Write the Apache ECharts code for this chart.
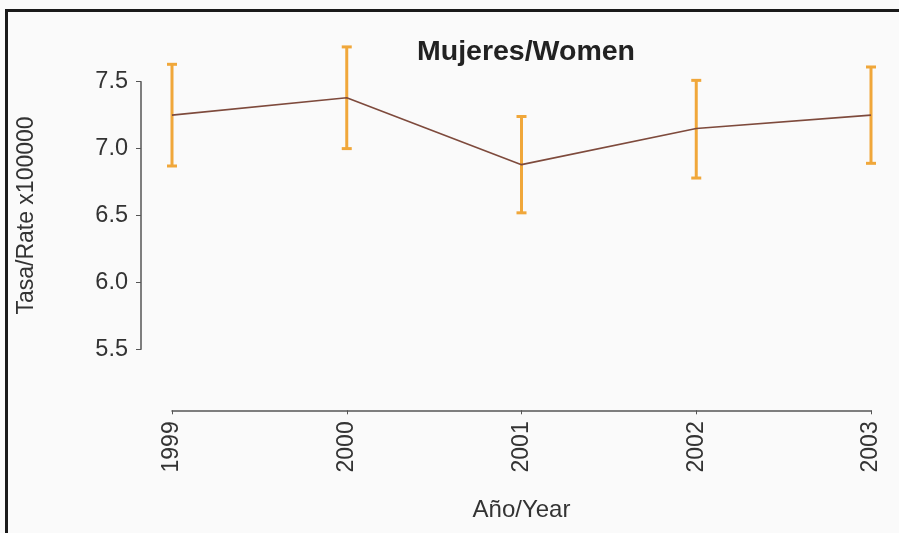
<!DOCTYPE html>
<html>
<head>
<meta charset="utf-8">
<script src="https://cdn.jsdelivr.net/npm/echarts@6/dist/echarts.min.js"></script>
<style>
html,body{margin:0;padding:0;background:#fafafa;}
#chart{width:899px;height:533px;}
</style>
</head>
<body>
<div id="chart"></div>
<script>
var years = ['1999', '2000', '2001', '2002', '2003'];
var rates = [7.25, 7.38, 6.88, 7.15, 7.25];
var lower = [6.87, 7.00, 6.52, 6.78, 6.89];
var upper = [7.63, 7.76, 7.24, 7.51, 7.61];
var yTicks = [5.5, 6.0, 6.5, 7.0, 7.5];

var FONT = '"Liberation Sans", Arial, Helvetica, sans-serif';
var chart = echarts.init(document.getElementById('chart'));

var errData = years.map(function (y, i) { return [i, lower[i], upper[i]]; });

chart.setOption({
  backgroundColor: '#fafafa',
  animation: false,
  title: {
    text: 'Mujeres/Women',
    left: 521,
    top: 33,
    textAlign: 'center',
    textStyle: { fontFamily: FONT, fontSize: 28.5, fontWeight: 'bold', color: '#222' }
  },
  grid: { left: 172, right: 28, top: 81.7, bottom: 183.7, containLabel: false, outerBoundsMode: 'none' },
  xAxis: {
    type: 'category',
    data: years,
    boundaryGap: false,
    offset: 61,
    name: 'Año/Year',
    nameLocation: 'middle',
    nameGap: 88,
    nameTextStyle: { fontFamily: FONT, fontSize: 24, color: '#333' },
    axisLine: { lineStyle: { color: '#555', width: 1.5 } },
    axisTick: { length: 4, lineStyle: { color: '#555' } },
    axisLabel: { rotate: 90, margin: 11, fontFamily: FONT, fontSize: 23, color: '#333', padding: [0, 0, 0, 0] },
    splitLine: { show: false }
  },
  yAxis: {
    type: 'value',
    min: yTicks[0],
    max: yTicks[yTicks.length - 1],
    interval: 0.5,
    offset: 31,
    name: 'Tasa/Rate x100000',
    nameLocation: 'middle',
    nameGap: 103,
    nameTextStyle: { fontFamily: FONT, fontSize: 23, color: '#333' },
    axisLine: { show: true, lineStyle: { color: '#555', width: 1.5 } },
    axisTick: { show: true, length: 5, lineStyle: { color: '#555' } },
    axisLabel: { margin: 13, fontFamily: FONT, fontSize: 23.5, color: '#333',
      formatter: function (v) { return v.toFixed(1); } },
    splitLine: { show: false }
  },
  series: [
    {
      type: 'custom',
      clip: false,
      data: errData,
      z: 2,
      renderItem: function (params, api) {
        var x = api.value(0);
        var lo = api.coord([x, api.value(1)]);
        var hi = api.coord([x, api.value(2)]);
        var hw = 5;
        var style = { stroke: '#F0A73A', lineWidth: 3 };
        return {
          type: 'group',
          children: [
            { type: 'line', shape: { x1: lo[0], y1: lo[1], x2: hi[0], y2: hi[1] }, style: style },
            { type: 'line', shape: { x1: lo[0] - hw, y1: lo[1], x2: lo[0] + hw, y2: lo[1] }, style: style },
            { type: 'line', shape: { x1: hi[0] - hw, y1: hi[1], x2: hi[0] + hw, y2: hi[1] }, style: style }
          ]
        };
      }
    },
    {
      type: 'line',
      data: rates,
      clip: false,
      z: 3,
      symbol: 'none',
      lineStyle: { color: '#7E4A3C', width: 1.6 }
    }
  ],
  graphic: [
    { type: 'rect', shape: { x: 5, y: 9, width: 894, height: 3 }, style: { fill: '#1a1a1a' } },
    { type: 'rect', shape: { x: 5, y: 9, width: 3, height: 524 }, style: { fill: '#1a1a1a' } }
  ]
});
</script>
</body>
</html>
